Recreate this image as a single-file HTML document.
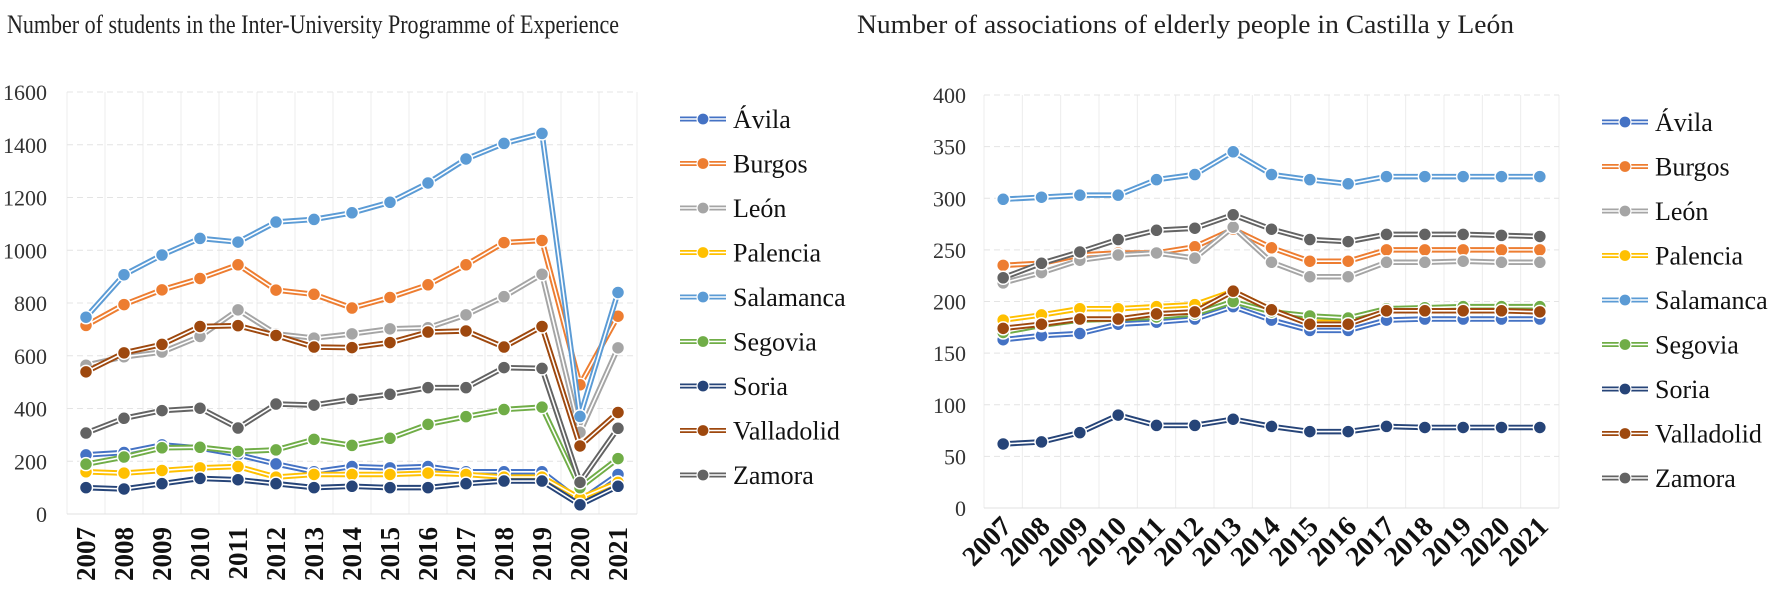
<!DOCTYPE html>
<html><head><meta charset="utf-8"><style>
html,body{margin:0;padding:0;background:#fff;}
svg text{font-family:"Liberation Serif",serif;}
</style></head><body>
<svg id="svg" width="1772" height="586" viewBox="0 0 1772 586" xmlns="http://www.w3.org/2000/svg">
<text x="7" y="33" font-size="26" textLength="612" lengthAdjust="spacingAndGlyphs" fill="#222">Number of students in the Inter-University Programme of Experience</text>
<text x="857" y="33" font-size="26" textLength="657" lengthAdjust="spacingAndGlyphs" fill="#222">Number of associations of elderly people in Castilla y León</text>
<g id="left"></g>
<g id="right"></g>
</svg>
<script>
const years = [2007,2008,2009,2010,2011,2012,2013,2014,2015,2016,2017,2018,2019,2020,2021];
const seriesNames = ["Ávila","Burgos","León","Palencia","Salamanca","Segovia","Soria","Valladolid","Zamora"];
const seriesColors = ["#4472C4","#ED7D31","#A5A5A5","#FFC000","#5B9BD5","#70AD47","#264478","#9E480E","#636363"];
// Left chart: students
const studAvila      = [224,233,262,250,225,190,160,180,175,180,160,160,160,50,150];
const studBurgos     = [715,794,850,893,945,849,833,781,821,869,945,1029,1037,490,750];
const studLeon       = [564,596,614,673,774,683,667,683,702,706,755,824,909,310,630];
const studPalencia   = [160,155,165,175,180,140,150,150,150,155,150,140,140,60,120];
const studSalamanca  = [746,907,982,1045,1031,1107,1117,1142,1182,1255,1346,1405,1443,370,840];
const studSegovia    = [189,216,251,253,237,243,283,260,287,340,369,396,405,100,210];
const studSoria      = [100,95,115,135,130,115,100,105,100,100,115,125,125,35,105];
const studValladolid = [539,611,643,711,714,677,633,631,650,690,694,633,711,258,385];
const studZamora     = [307,363,392,401,326,417,413,435,454,479,479,555,552,120,325];
const leftTicks = [0,200,400,600,800,1000,1200,1400,1600];
// Right chart: associations
const assocAvila      = [163,167,169,178,180,183,195,182,172,172,182,183,183,183,183];
const assocBurgos     = [235,237,245,247,247,253,270,252,239,239,250,250,250,250,250];
const assocLeon       = [218,228,240,245,247,242,272,238,224,224,238,238,239,238,238];
const assocPalencia   = [182,187,193,193,195,197,210,192,180,180,192,192,193,193,193];
const assocSalamanca  = [299,301,303,303,318,323,345,323,318,314,321,321,321,321,321];
const assocSegovia    = [170,177,182,183,185,188,200,190,186,184,193,194,195,195,195];
const assocSoria      = [62,64,73,90,80,80,86,79,74,74,79,78,78,78,78];
const assocValladolid = [174,178,183,183,188,190,210,192,178,178,191,191,191,191,190];
const assocZamora     = [223,237,248,260,269,271,284,270,260,258,265,265,265,264,263];
const rightTicks = [0,50,100,150,200,250,300,350,400];

const NS="http://www.w3.org/2000/svg";
function mk(tag,attrs,parent){const e=document.createElementNS(NS,tag);for(const k in attrs)e.setAttribute(k,attrs[k]);parent.appendChild(e);return e;}

function drawChart(g,cfg){
  const {left,right,top,bottom,max,ticks,data,rotate,legX,legY}=cfg;
  const n=years.length, step=(right-left)/n;
  const xs=i=>left+step*(i+0.5);
  const ys=v=>bottom-(v/max)*(bottom-top);
  for(let i=0;i<=n;i++){
    const l=mk('line',{x1:left+step*i,x2:left+step*i,y1:top,y2:bottom,stroke:'#ececec','stroke-width':1},g);
    
    
  }
  ticks.forEach(t=>{
    const l=mk('line',{x1:left,x2:right,y1:ys(t),y2:ys(t),stroke:t===0?'#e0e0e0':'#e4e4e4','stroke-width':1,'stroke-dasharray':t===0?'':'6,4'},g);
    
    
    const tx=mk('text',{x:cfg.labelRight,y:ys(t)+8,'font-size':22,'text-anchor':'end',fill:'#333'},g);
    tx.textContent=t;
    
    
  });
  years.forEach((yr,i)=>{
    let tx;
    if(rotate===90){
      tx=mk('text',{x:0,y:0,'font-size':27,'font-weight':'bold','text-anchor':'end',transform:`translate(${xs(i)+9},${bottom+13}) rotate(-90)`,fill:'#111'},g);
    }else{
      tx=mk('text',{x:0,y:0,'font-size':28,'font-weight':'bold','text-anchor':'end',transform:`translate(${xs(i)+10},${bottom+20}) rotate(-45)`,fill:'#111'},g);
    }
    tx.textContent=yr;
    
    
  });
  data.forEach((arr,s)=>{
    const sg=mk('g',{},g);
    
    
    const pts=arr.map((v,i)=>xs(i)+','+ys(v)).join(' ');
    mk('polyline',{points:pts,fill:'none',stroke:seriesColors[s],'stroke-width':5.5,'stroke-linejoin':'round'},sg);
    mk('polyline',{points:pts,fill:'none',stroke:'#fff','stroke-width':1.6,'stroke-linejoin':'round'},sg);
    arr.forEach((v,i)=>{
      const c=mk('circle',{cx:xs(i),cy:ys(v),r:6.5,fill:seriesColors[s],stroke:'#fff','stroke-width':1.5},sg);
      
      
    });
  });
  seriesNames.forEach((nm,s)=>{
    const y=legY+s*44.5;
    const lg=mk('g',{},g);
    
    
    mk('line',{x1:legX,x2:legX+46,y1:y,y2:y,stroke:seriesColors[s],'stroke-width':5},lg);
    mk('line',{x1:legX,x2:legX+46,y1:y,y2:y,stroke:'#fff','stroke-width':1.5},lg);
    mk('circle',{cx:legX+23,cy:y,r:6,fill:seriesColors[s],stroke:'#fff','stroke-width':1.2},lg);
    const t=mk('text',{x:legX+53,y:y+9,'font-size':26,fill:'#111'},lg);
    t.textContent=nm;
  });
}
drawChart(document.getElementById('left'),{left:67,right:637,top:92,bottom:514,max:1600,ticks:leftTicks,rotate:90,labelRight:47,legX:680,legY:119,
  data:[studAvila,studBurgos,studLeon,studPalencia,studSalamanca,studSegovia,studSoria,studValladolid,studZamora]});
drawChart(document.getElementById('right'),{left:984,right:1559,top:95,bottom:508,max:400,ticks:rightTicks,rotate:45,labelRight:966,legX:1602,legY:122,
  data:[assocAvila,assocBurgos,assocLeon,assocPalencia,assocSalamanca,assocSegovia,assocSoria,assocValladolid,assocZamora]});
</script>
</body></html>
